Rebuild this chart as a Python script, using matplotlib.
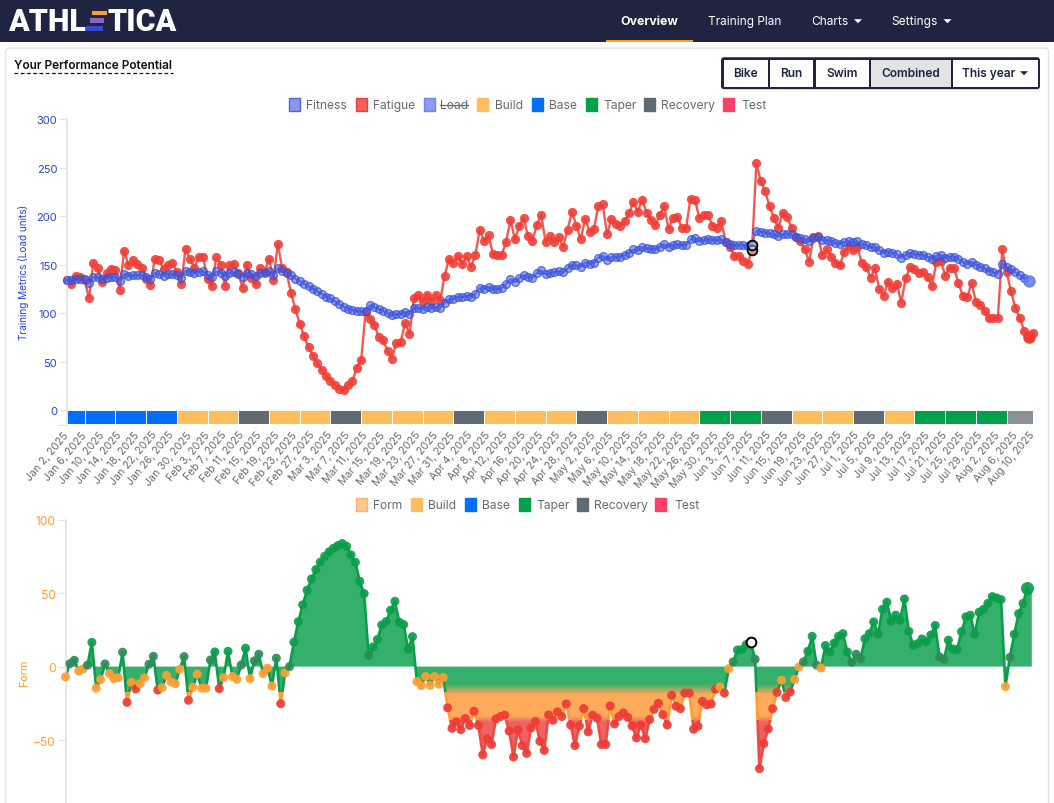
import numpy as np
import pandas as pd
import matplotlib
matplotlib.use("Agg")
import matplotlib.pyplot as plt
from matplotlib.patches import Rectangle, FancyBboxPatch

plt.rcParams['font.family'] = ['Inter', 'DejaVu Sans']

W, H = 1054, 804

fatigue = [134,130,138,137,134.5,115,152,146,132,141,145,144.5,124,164,149,154.5,151,146.5,135.5,128.5,
 156,154.5,145.5,150,152,142,130,166,156,146.5,157.5,157.5,135,128,158,150,128,149,151,141,
 126,150,136,130,146,142,156,134,171,146.5,142,121,104,89,76,65,56,48,41,35,
 30,25.5,22,21,26,30,43.5,52,101,94,88,75,72,61,53,69,70,90,78.6,115,
 118.6,112,119,112,119,113,138.6,156,152,159,151,158.6,147.6,160,186,174,180,160.7,160,160,
 173.4,196,176,190,198,179,174.5,191,200.7,173,179,173,178,168,186,204,190,176,197,184,
 187,210,212,181,197,192,190,195,203,214,204.5,217,203,196,191,201,210,187,197.6,199,
 188,188,218,217,198,201,201,190,188,194.5,173.5,168,159,159,154,151,165,254.5,236,225.5,
 210,197.6,188,203,199,188,178.6,174,166,153,178,179,160,165.5,158,152,149,163,169,165,
 167.6,152,147,136.5,146,125,118,132,126,130,110.7,136,147,145,141,142,137,127.6,153,154,
 138.6,146.6,146.6,131,118,116,130.7,111.7,108.6,102,95,95,95,165.5,142,122.4,105,95,81,75.5,79]

fitness = [134,134,135.5,135.5,135,131,137,137,135,136,137,137,133.5,140,138,139,139,139,137,135.5,
 141,140,138.6,140,140,139,136.5,143.4,142.4,141,142.8,143,139.6,137.6,143,141.7,138.3,141.7,142,140,
 137.6,141.7,140,138,141,141,143,139,146,143,141.7,139,135.5,132.8,130,127.6,125,122.4,120,117,
 115,112,109,106.6,104.5,103,101.7,101.7,102,108,106,104,102.4,99.7,97.6,99,99,101,99,105,
 105.5,104.5,106,105,106,105.5,110,114,114.5,117,116,118,117,120,126,125,127,125,125,126,
 130,135,132,136,139,137,136.5,141,144,140,141,142,143,142,146,150,149,147.6,152,151,
 151.7,157,159,154.5,158,158,158,160,162,165.5,164.5,168,166.6,166,166,168,170.7,168,169.7,170.7,
 170,170,176,177,174,175,176,175,175,176,173.4,171,170,170,170,169,170,185,184,183,
 182,181,179,181,181.4,181,178.6,177.6,176,174,177.6,178.6,175,175,174,172,171,173,174,173,
 174,171,170,167.6,168,165,162,163.4,162,161,157,160,161.7,160.7,160,160,158,156,159,160,
 157,158,158,155.5,152.7,150.7,152.7,150,147.6,146,143.4,142,140.7,151,147.6,145,142,139,136,133.5]

form = [-7,2,4.3,-3,-1.6,1,16.5,-14.7,-8.8,1.8,-4.8,-8.2,-7.5,9.8,-24.3,-10.7,-15.2,-11.6,-7.5,1.6,
 7,-15.9,-14.3,-6,-10.4,-11.6,-1.8,6.8,-22.9,-14,-5.2,-14.7,-14.7,4.5,10,-15,-7.5,10.4,-6.8,-8.6,
 1.1,12.5,-8.2,3.9,8.4,-4.8,-1,-13.2,5.7,-25.2,-4.3,0,16.6,30.6,42,52,59.6,66,71,75,
 78,80.5,82.3,83.7,81.9,76,71,58,49.7,7.5,13.4,18.4,28.3,30.6,38.3,44.4,30.2,28.6,11.8,20.4,
 -10.2,-12.9,-6.8,-12.7,-6.8,-12,-7.3,-28,-42,-37.6,-42.9,-35.4,-40,-30.4,-40,-60,-49,-53,-35.6,-34,
 -33,-43.8,-61.5,-43,-53.7,-59,-41.7,-37.4,-50.8,-57,-32.9,-36.5,-30.8,-34,-25.4,-39.7,-53.7,-40.4,-28.6,-44.4,
 -33,-35,-53,-53,-26.8,-39,-34,-31.5,-34.5,-40.4,-48.5,-39.7,-49,-36,-29,-25,-32.7,-39.7,-19.5,-27,
 -28.6,-18,-18,-42.6,-40.6,-23.6,-26,-25.4,-15.4,-13.8,-18,-1.4,3.2,11.3,11.6,15,17,5,-69.4,-52.4,
 -42.4,-28.6,-17.5,-9.3,-21,-17.2,-8.8,-0.2,3.2,10.4,20.6,1,-1,14.3,10,16,20.6,22.4,10,3,
 8.4,5.4,19,22.4,30.4,22,39,43.8,31,35,31.5,46,24,14.7,15.6,18.8,17,21.5,28,6.6,
 5,18,12,11.6,23.8,33.8,35,22,37,39,43,47.6,46.7,45.6,-13.6,6.3,22,36,43,53.5,51]

week_phases = ["Base","Base","Base","Base","Build","Build","Recovery","Build","Build","Recovery",
 "Build","Build","Build","Recovery","Build","Build","Build","Recovery","Build","Build","Build",
 "Taper","Taper","Recovery","Build","Build","Recovery","Build","Taper","Taper","Taper","Current"]
phase_colors = {"Base":"#0070fb","Build":"#ffbe5c","Recovery":"#5f6a73","Taper":"#00a14b",
                "Test":"#ff3e69","Current":"#8b9097"}
dates = pd.date_range("2025-01-02", "2025-08-10")
tick_dates = dates[::4]
tick_labels = [f"{d.strftime('%b')} {d.day}, {d.year}" for d in tick_dates]

legend_top = [("Fitness",289,306,"#8a97ea","#5163d8"),("Fatigue",355.6,373,"#f4605a","#f03e36"),
              ("Load",424,440,"#8b9bf2","#7384ea"),("Build",477,495,"#ffbe5c","#ffbe5c"),
              ("Base",531.5,548.5,"#0070fb","#0070fb"),("Taper",585.5,603,"#00a14b","#00a14b"),
              ("Recovery",644,661.5,"#5f6a73","#5f6a73"),("Test",723,741,"#ff3e69","#ff3e69")]
legend_low = [("Form",355.6,373,"#ffc890","#ffb070"),("Build",411,427.6,"#ffbe5c","#ffbe5c"),
              ("Base",465,482,"#0070fb","#0070fb"),("Taper",519,536,"#00a14b","#00a14b"),
              ("Recovery",577,594,"#5f6a73","#5f6a73"),("Test",655,674,"#ff3e69","#ff3e69")]

NAVY = "#1f2540"; BLUE = "#2a42d8"; ORANGE = "#ff9d2e"; GRID = "#e2e2e2"; GREY = "#666b70"

fig = plt.figure(figsize=(W/100, H/100), dpi=100, facecolor="white")
bg = fig.add_axes([0, 0, 1, 1]); bg.set_xlim(0, W); bg.set_ylim(H-0.7, -0.7); bg.axis("off")

def px_axes(l, t, r, b):
    return fig.add_axes([l/W, 1-b/H, (r-l)/W, (b-t)/H], facecolor="none")

# page chrome
bg.add_patch(Rectangle((0, -2), W, 44, fc=NAVY, ec="none"))
bg.add_patch(Rectangle((606, 40), 87, 2.2, fc=ORANGE, ec="none"))
bg.add_patch(FancyBboxPatch((5.5, 48.5), 1043, 800, boxstyle="round,pad=0,rounding_size=4", fc="white", ec="#e4e4e4", lw=1))
bg.text(8, 21, "ATHL", color="white", fontsize=22, fontweight="black", family="Roboto", va="center", ha="left")
bg.text(177, 21, "TICA", color="white", fontsize=22, fontweight="black", family="Roboto", va="center", ha="right")
for x0, x1, y0_, y1, c in [(91.5, 107, 11, 15, "#ff9d2e"), (90, 104, 18.5, 23, "#8a63c9"), (86, 102.5, 26, 31, "#3347d8")]:
    bg.add_patch(Rectangle((x0, y0_), x1-x0, y1-y0_, fc=c, ec="none"))
bg.text(649.5, 21, "Overview", color="white", fontsize=8.9, fontweight="bold", ha="center", va="center")
bg.text(744.5, 21, "Training Plan", color="white", fontsize=8.5, ha="center", va="center")
bg.text(830, 21, "Charts", color="white", fontsize=8.6, ha="center", va="center")
bg.text(915, 21, "Settings", color="white", fontsize=8.6, ha="center", va="center")
for cx in (858, 947.5):
    bg.fill([cx-4, cx+4, cx], [19.5, 19.5, 23.5], color="white", lw=0)

bg.text(14, 65, "Your Performance Potential", color="#111111", fontsize=8.55, fontweight="semibold", ha="left", va="center")
bg.plot([14, 173], [73.5, 73.5], color="#111111", lw=0.9, dashes=(3, 2))

# buttons
bg.add_patch(FancyBboxPatch((722, 58.5), 317, 30, boxstyle="round,pad=0,rounding_size=2", fc=NAVY, ec=NAVY, lw=1.4))
cells = [("Bike", 723.5, 768), ("Run", 770, 813), ("Swim", 815.5, 869), ("Combined", 871, 950.5), ("This year", 952.5, 1037.5)]
for name, x0, x1 in cells:
    bg.add_patch(Rectangle((x0, 60), x1-x0, 27.5, fc="#e2e3e4" if name == "Combined" else "white", ec="none"))
    cx = (x0+x1)/2 - (6 if name == "This year" else 0)
    bg.text(cx, 73, name, color=NAVY, fontsize=8.6, fontweight="semibold", ha="center", va="center")
bg.fill([1020, 1028, 1024], [71.5, 71.5, 75.5], color=NAVY, lw=0)

# legends
def legend(items, yc):
    for name, sx, tx, fc, ec in items:
        bg.add_patch(Rectangle((sx, yc-6.5), 11, 13, fc=fc, ec=ec, lw=1))
        bg.text(tx, yc, name, color=GREY, fontsize=8.7, ha="left", va="center")
        if name == "Load":
            bg.plot([tx, tx+28], [yc, yc], color=GREY, lw=0.9)
legend(legend_top, 105)
legend(legend_low, 505)

# top chart
ax = px_axes(67, 120, 1033, 425)
ax.set_xlim(0, 220); ax.set_ylim(-14.4, 300)
days = np.arange(len(dates))
for k, ph in enumerate(week_phases):
    start = 0 if k == 0 else 4 + 7*(k-1)
    end = 4 + 7*k
    ax.bar(start, 14.4, width=end-start, bottom=-14.4, align="edge", color=phase_colors[ph], ec="white", lw=0.7, zorder=1)
xf = np.arange(len(fatigue)); xt = np.arange(len(fitness))
ax.plot(xf, fatigue, color="#f0473f", lw=1.7, alpha=0.9, marker="o", ms=6.6, mfc="#f03e36", mec="#f03e36", mew=0, zorder=2, clip_on=False)
ax.plot(xf[-2], fatigue[-2], "o", ms=9.0, color="#f03e36", mew=0, zorder=2, clip_on=False)
ax.plot(xt, fitness, color=(0.22,0.31,0.86,0.65), lw=1.5, marker="o", ms=5.6, mfc=(0.27,0.36,0.88,0.55), mec=(0.2,0.3,0.85,0.7), mew=1.0, zorder=3, clip_on=False)
ax.plot(xt[-1], fitness[-1], "o", ms=8.0, mfc=(0.45,0.53,0.92,0.7), mec=(0.3,0.4,0.88,0.8), mew=0.9, zorder=3, clip_on=False)
hl = 156
ax.plot([hl, hl], [fatigue[hl], fitness[hl]], ls="none", marker="o", ms=7.0, mfc=(1,1,1,0.35), mec="black", mew=1.3, zorder=4, clip_on=False)
ax.set_xticks(days[::4]); ax.set_xticklabels(tick_labels, rotation=50, ha="right", va="center", rotation_mode="anchor", fontsize=7.6, color=GREY)
ax.tick_params(axis="x", length=0, pad=6)
ax.set_yticks(np.arange(0, 301, 50))
ax.tick_params(axis="y", length=6, width=0.8, color=GRID, labelcolor=BLUE, labelsize=8, pad=1)
for s in ("top", "right", "bottom"):
    ax.spines[s].set_visible(False)
ax.spines["left"].set_color(GRID); ax.spines["left"].set_linewidth(1.2)
bg.plot([58, 67], [425, 425], color=GRID, lw=0.8)
bg.text(24, 272, "Training Metrics (Load units)", color=BLUE, fontsize=7.2, rotation=90, ha="center", va="center")

# bottom chart
ax2 = px_axes(65.5, 520.6, 1031.8, 804)
y0 = -(804-667.6)/1.47
ax2.set_xlim(0, 220); ax2.set_ylim(y0, 100)
xs = np.arange(len(form)); ys = np.array(form, float)

green_fill = np.array([52, 176, 108]); orange_fill = np.array([253, 170, 90]); red_fill = np.array([238, 98, 98])
rows = np.linspace(100, y0, 500)
grad = np.zeros((500, 1, 3))
for c in range(3):
    grad[:, 0, c] = np.interp(-rows, [12, 19, 34, 38], [green_fill[c], orange_fill[c], orange_fill[c], red_fill[c]])
im = ax2.imshow(grad.astype(np.uint8), extent=(0, 220, y0, 100), aspect="auto", interpolation="bilinear", zorder=1)
poly = ax2.fill_between(xs, ys, 0, facecolor="none", edgecolor="none")
im.set_clip_path(poly.get_paths()[0], ax2.transData)
ax2.set_xlim(0, 220); ax2.set_ylim(y0, 100)

bands = [("#0b9e4a", -17, 120), ("#ff9d2e", -36, 19), ("#ee4a44", y0, -36-y0)]
for col, b, h in bands:
    ln, = ax2.plot(xs[:-1], ys[:-1], color=col, lw=1.9, zorder=2)
    ln.set_clip_path(Rectangle((-5, b), 240, h, transform=ax2.transData))

def point_color(v):
    if v <= -15:  return "#ee3b36"
    if v < 0:     return "#ff9f33"
    if v < 10:    return "#2e8b57"
    return "#0b9e4a"
ax2.scatter(xs[:-2], ys[:-2], s=42, c=[point_color(v) for v in ys[:-2]], alpha=0.92, lw=0, zorder=3, clip_on=False)
ax2.scatter(xs[-2], ys[-2], s=88, c="#0b9e4a", alpha=0.92, lw=0, zorder=3, clip_on=False)
ax2.plot(hl, form[hl], "o", ms=7.0, mfc="white", mec="black", mew=1.4, zorder=4, clip_on=False)
ax2.set_xticks([])
ax2.set_yticks([-50, 0, 50, 100])
ax2.tick_params(axis="y", length=6, width=0.8, color=GRID, labelcolor=ORANGE, labelsize=8.6, pad=1)
for s in ("top", "right", "bottom"):
    ax2.spines[s].set_visible(False)
ax2.spines["left"].set_color(GRID); ax2.spines["left"].set_linewidth(1.2)
bg.text(24, 672, "Form", color=ORANGE, fontsize=7.8, rotation=90, ha="center", va="center")

fig.savefig("out.png", dpi=100, facecolor="white")
